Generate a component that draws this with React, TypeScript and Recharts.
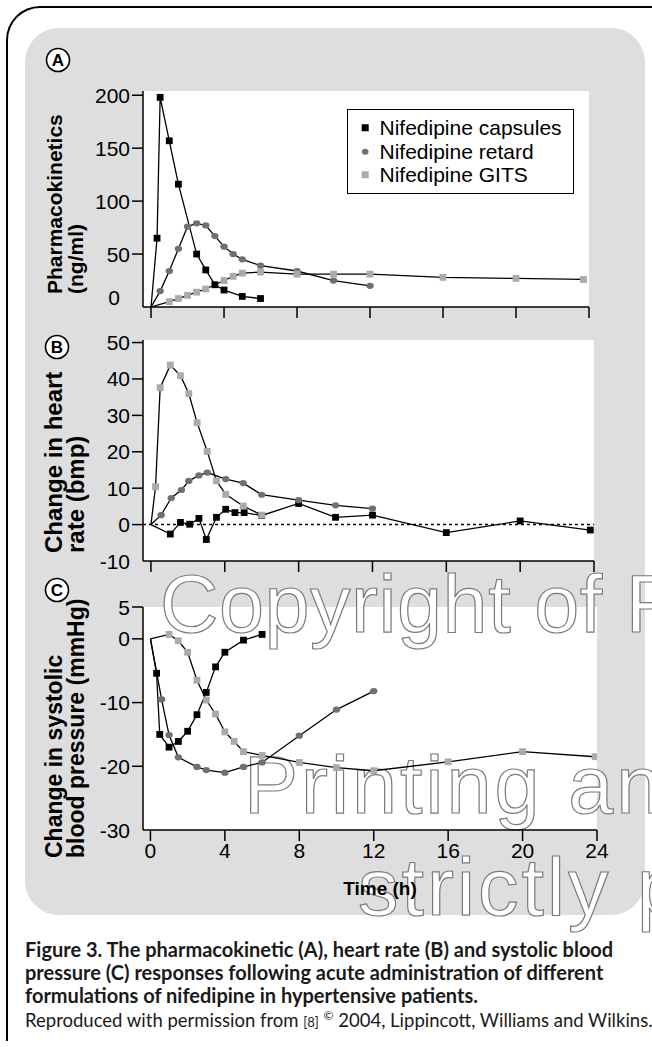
import React from 'react';
import { LineChart, Line, XAxis, YAxis, ReferenceLine, Legend } from 'recharts';

const FONT = "'Liberation Sans', Arial, Helvetica, sans-serif";
const CAPTION_FONT = "Lato, 'Open Sans', sans-serif";

const seriesNames = ['Nifedipine capsules', 'Nifedipine retard', 'Nifedipine GITS'];
const seriesColors = ['#000000', '#707070', '#aaaaaa'];
const seriesMarkers = ['square', 'circle', 'square'];

const timeTicks = [0, 4, 8, 12, 16, 20, 24];
const pkTicks = [0, 50, 100, 150, 200];
const hrTicks = [-10, 0, 10, 20, 30, 40, 50];
const sbpTicks = [-30, -20, -10, 0, 5];

// Panel A: pharmacokinetics (ng/ml)
const pkCapsulesTime = [0, 0.33, 0.5, 1, 1.5, 2.5, 3, 3.5, 4, 5, 6];
const pkCapsulesValue = [0, 65, 198, 157, 116, 50, 35, 21, 16, 10, 8];
const pkRetardTime = [0, 0.5, 1, 1.5, 2, 2.5, 3, 3.5, 4, 4.5, 5, 6, 8, 10, 12];
const pkRetardValue = [0, 15, 34, 55, 76, 79, 77, 67, 57, 50, 45, 39, 34, 25, 20];
const pkGitsTime = [0, 1, 1.5, 2, 2.5, 3, 4, 4.5, 5, 6, 8, 10, 12, 16, 20, 23.7];
const pkGitsValue = [0, 5, 8, 11, 14, 17, 25, 29, 32, 33, 31, 31, 31, 28, 27, 26];

// Panel B: change in heart rate (bpm)
const hrCapsulesTime = [0, 1.05, 1.6, 2.1, 2.6, 3, 3.55, 4.05, 4.55, 5.05, 6, 8, 10, 12, 16, 20, 23.8];
const hrCapsulesValue = [0, -2.6, 0.6, 0.1, 1.7, -4.1, 2.0, 4.2, 3.3, 3.3, 2.5, 5.8, 2.0, 2.6, -2.2, 1.0, -1.5];
const hrRetardTime = [0, 0.55, 1.1, 1.65, 2.05, 2.6, 3.05, 4.05, 5, 6, 8, 10, 12];
const hrRetardValue = [0, 2.6, 7.3, 9.5, 12.0, 13.5, 14.3, 12.5, 11.4, 8.2, 6.7, 5.3, 4.4];
const hrGitsTime = [0, 0.25, 0.5, 1.05, 1.6, 2.05, 2.5, 3.05, 3.55, 4.05, 5, 6];
const hrGitsValue = [0, 10.4, 37.6, 43.8, 40.9, 36.0, 28.0, 20.1, 12.0, 8.3, 5.1, 2.6];

// Panel C: change in systolic blood pressure (mmHg)
const sbpCapsulesTime = [0, 0.33, 0.5, 1, 1.5, 2, 2.5, 3, 3.5, 4, 5, 6];
const sbpCapsulesValue = [0, -5.4, -15.0, -17.0, -16.1, -14.5, -11.9, -8.4, -4.4, -2.1, -0.2, 0.7];
const sbpRetardTime = [0, 0.6, 1, 1.5, 2.5, 3, 4, 5, 6, 8, 10, 12];
const sbpRetardValue = [0, -9.5, -15.1, -18.6, -20.1, -20.6, -21.0, -20.1, -19.4, -15.2, -11.1, -8.2];
const sbpGitsTime = [0, 1, 1.5, 2, 2.5, 3, 3.5, 4, 4.5, 5, 6, 8, 10, 12, 16, 20, 23.9];
const sbpGitsValue = [0, 0.7, -0.3, -2.1, -6.5, -9.6, -11.8, -14.6, -16.1, -17.7, -18.3, -19.4, -20.2, -20.7, -19.3, -17.7, -18.5];

const captionLines = [
  'Figure 3. The pharmacokinetic (A), heart rate (B) and systolic blood',
  'pressure (C) responses following acute administration of different',
  'formulations of nifedipine in hypertensive patients.',
];

const toPoints = (t: number[], v: number[]) => t.map((x, i) => ({ t: x, v: v[i] }));

const pkData = [
  toPoints(pkCapsulesTime, pkCapsulesValue),
  toPoints(pkRetardTime, pkRetardValue),
  toPoints(pkGitsTime, pkGitsValue),
];
const hrData = [
  toPoints(hrCapsulesTime, hrCapsulesValue),
  toPoints(hrRetardTime, hrRetardValue),
  toPoints(hrGitsTime, hrGitsValue),
];
const sbpData = [
  toPoints(sbpCapsulesTime, sbpCapsulesValue),
  toPoints(sbpRetardTime, sbpRetardValue),
  toPoints(sbpGitsTime, sbpGitsValue),
];

function makeDot(seriesIndex: number) {
  const color = seriesColors[seriesIndex];
  const kind = seriesMarkers[seriesIndex];
  return (props: any) => {
    const { cx, cy, index } = props;
    const key = `dot-${seriesIndex}-${index}`;
    if (index === 0 || cx == null || cy == null) return <g key={key} />;
    if (kind === 'circle') {
      return <ellipse key={key} cx={cx} cy={cy} rx={3.7} ry={3.1} fill={color} />;
    }
    return <rect key={key} x={cx - 3.4} y={cy - 3.4} width={6.8} height={6.8} fill={color} />;
  };
}

function renderLines(datasets: { t: number; v: number }[][]) {
  return datasets.map((d, i) => (
    <Line
      key={seriesNames[i]}
      name={seriesNames[i]}
      data={d}
      dataKey="v"
      type="linear"
      stroke="#000"
      strokeWidth={1.3}
      dot={makeDot(i)}
      activeDot={false}
      isAnimationActive={false}
    />
  ));
}

function makeYTick(bottomValue: number, special?: { value: number; dx: number; dy: number }) {
  return (props: any) => {
    const { x, y, payload } = props;
    const v = payload.value;
    let tx = x;
    let ty = y;
    if (special && v === special.value) {
      tx += special.dx;
      ty += special.dy;
    }
    return (
      <g>
        {v !== bottomValue && !(special && v === special.value) && (
          <line x1={x + 2} x2={x + 13} y1={y} y2={y} stroke="#000" strokeWidth={1.5} />
        )}
        <text
          x={tx}
          y={ty}
          textAnchor="end"
          dominantBaseline="central"
          fontFamily={FONT}
          fontSize={21}
          fill="#000"
        >
          {v}
        </text>
      </g>
    );
  };
}

const emptyTick = () => <g />;

const xLabelTick = (props: any) => {
  const { x, y, payload } = props;
  return (
    <text x={x} y={y} dy="0.71em" textAnchor="middle" fontFamily={FONT} fontSize={21} fill="#000">
      {payload.value}
    </text>
  );
};

const LegendBox = (props: any) => {
  const payload: any[] = props.payload || [];
  const items = seriesNames.map((name, i) => ({
    name: (payload.find((p) => p.value === name) || { value: name }).value,
    i,
  }));
  return (
    <div
      style={{
        boxSizing: 'border-box',
        width: 227,
        height: 85,
        border: '1.5px solid #000',
        background: '#fff',
        paddingTop: 6,
      }}
    >
      {items.map(({ name, i }) => (
        <div
          key={name}
          style={{
            height: 23.5,
            display: 'flex',
            alignItems: 'center',
            fontFamily: FONT,
            fontSize: 21,
            lineHeight: '23.5px',
            color: '#000',
            whiteSpace: 'nowrap',
          }}
        >
          <svg width={31.5} height={23.5} style={{ flex: 'none' }}>
            {seriesMarkers[i] === 'circle' ? (
              <ellipse cx={17.2} cy={11.75} rx={3.3} ry={3} fill={seriesColors[i]} />
            ) : (
              <rect x={17.2 - 3.5} y={11.75 - 3.5} width={7} height={7} fill={seriesColors[i]} />
            )}
          </svg>
          <span>{name}</span>
        </div>
      ))}
    </div>
  );
};

const axisStyle = { stroke: '#000', strokeWidth: 1.5 };

export default function App() {
  return (
    <div
      style={{
        position: 'absolute',
        left: 0,
        top: 0,
        width: 652,
        height: 1047,
        overflow: 'hidden',
        background: '#fff',
      }}
    >
      {/* outer frame */}
      <div
        style={{
          position: 'absolute',
          left: 6,
          top: 6,
          width: 700,
          height: 1035,
          borderTop: '2.5px solid #000',
          borderLeft: '2.5px solid #000',
          borderTopLeftRadius: 34,
          boxSizing: 'border-box',
        }}
      />
      {/* grey panel */}
      <div
        style={{
          position: 'absolute',
          left: 25,
          top: 28,
          width: 620,
          height: 887,
          background: '#dedede',
          borderRadius: 34,
        }}
      />
      {/* plot backgrounds */}
      <div style={{ position: 'absolute', left: 143, top: 91, width: 446, height: 216, background: '#fff' }} />
      <div style={{ position: 'absolute', left: 143, top: 340, width: 451, height: 221, background: '#fff' }} />
      <div style={{ position: 'absolute', left: 143, top: 607, width: 454, height: 223, background: '#fff' }} />

      {/* watermark */}
      <svg width={652} height={1047} style={{ position: 'absolute', left: 0, top: 0 }}>
        <g fill="#fff" stroke="#7a7a7a" strokeWidth={1.2} fontFamily={FONT} fontSize={81}>
          <text x={160} y={632} letterSpacing={0.5}>Copyright of F</text>
          <text x={244} y={813} letterSpacing={3}>Printing an</text>
          <text x={358} y={915} letterSpacing={3}>strictly p</text>
        </g>
      </svg>

      {/* Panel A */}
      <div style={{ position: 'absolute', left: 0, top: 0 }}>
        <LineChart width={652} height={330} margin={{ top: 91, right: 63, bottom: 0, left: 0 }}>
          <XAxis
            dataKey="t"
            type="number"
            domain={[-0.44, 24]}
            ticks={timeTicks}
            allowDataOverflow
            interval={0}
            height={23}
            tickSize={11}
            tickMargin={2}
            axisLine={axisStyle}
            tickLine={axisStyle}
            tick={emptyTick}
          />
          <YAxis
            type="number"
            domain={[0, 204]}
            ticks={pkTicks}
            allowDataOverflow
            interval={0}
            width={143}
            tickSize={11}
            tickMargin={2}
            axisLine={axisStyle}
            tickLine={false}
            tick={makeYTick(0, { value: 0, dx: -10, dy: -10 })}
          />
          <Legend
            layout="vertical"
            align="center"
            verticalAlign="middle"
            wrapperStyle={{ position: 'absolute', left: 347, top: 109, width: 227, height: 85 }}
            content={(p: any) => <LegendBox payload={p.payload} />}
          />
          {renderLines(pkData)}
        </LineChart>
      </div>

      {/* Panel B */}
      <div style={{ position: 'absolute', left: 0, top: 330 }}>
        <LineChart width={652} height={250} margin={{ top: 10, right: 58, bottom: 0, left: 0 }}>
          <XAxis
            dataKey="t"
            type="number"
            domain={[-0.43, 24]}
            ticks={timeTicks}
            allowDataOverflow
            interval={0}
            height={19}
            tickSize={11}
            tickMargin={2}
            axisLine={axisStyle}
            tickLine={axisStyle}
            tick={emptyTick}
          />
          <YAxis
            type="number"
            domain={[-10, 50.7]}
            ticks={hrTicks}
            allowDataOverflow
            interval={0}
            width={143}
            tickSize={11}
            tickMargin={2}
            axisLine={axisStyle}
            tickLine={false}
            tick={makeYTick(-10)}
          />
          <ReferenceLine y={0} stroke="#000" strokeWidth={1.5} strokeDasharray="3 3" />
          {renderLines(hrData)}
        </LineChart>
      </div>

      {/* Panel C */}
      <div style={{ position: 'absolute', left: 0, top: 585 }}>
        <LineChart width={652} height={290} margin={{ top: 22, right: 55, bottom: 0, left: 0 }}>
          <XAxis
            dataKey="t"
            type="number"
            domain={[-0.4, 24]}
            ticks={timeTicks}
            allowDataOverflow
            interval={0}
            height={45}
            tickSize={11}
            tickMargin={2}
            axisLine={axisStyle}
            tickLine={axisStyle}
            tick={xLabelTick}
          />
          <YAxis
            type="number"
            domain={[-30, 5]}
            ticks={sbpTicks}
            allowDataOverflow
            interval={0}
            width={143}
            tickSize={11}
            tickMargin={2}
            axisLine={axisStyle}
            tickLine={false}
            tick={makeYTick(-30)}
          />
          {renderLines(sbpData)}
        </LineChart>
      </div>

      {/* labels */}
      <svg width={652} height={1047} style={{ position: 'absolute', left: 0, top: 0, pointerEvents: 'none' }}>
        {[
          { l: 'A', x: 58, y: 60 },
          { l: 'B', x: 57, y: 347 },
          { l: 'C', x: 57, y: 590 },
        ].map((c) => (
          <g key={c.l}>
            <circle cx={c.x} cy={c.y} r={11.5} fill="#fff" stroke="#000" strokeWidth={1.6} />
            <text
              x={c.x}
              y={c.y + 0.5}
              textAnchor="middle"
              dominantBaseline="central"
              fontFamily={FONT}
              fontWeight={700}
              fontSize={17}
            >
              {c.l}
            </text>
          </g>
        ))}
        <g fontFamily={FONT} fontWeight={700} fill="#000">
          <text transform="translate(62,294) rotate(-90)" fontSize={21}>Pharmacokinetics</text>
          <text transform="translate(83,294) rotate(-90)" fontSize={21}>(ng/ml)</text>
          <text transform="translate(62,553) rotate(-90)" fontSize={24}>Change in heart</text>
          <text transform="translate(84,553) rotate(-90)" fontSize={24}>rate (bmp)</text>
          <text transform="translate(62,858) rotate(-90)" fontSize={23}>Change in systolic</text>
          <text transform="translate(84,858) rotate(-90)" fontSize={23}>blood pressure (mmHg)</text>
          <text x={380} y={888} textAnchor="middle" dominantBaseline="central" fontSize={19}>
            Time (h)
          </text>
        </g>
      </svg>

      {/* caption */}
      <div
        style={{
          position: 'absolute',
          left: 25,
          top: 938,
          fontFamily: CAPTION_FONT,
          fontSize: 20,
          fontWeight: 700,
          lineHeight: '23px',
          color: '#1a1a1a',
          whiteSpace: 'nowrap',
        }}
      >
        {captionLines.map((l) => (
          <div key={l}>{l}</div>
        ))}
      </div>
      <div
        style={{
          position: 'absolute',
          left: 25,
          top: 1005,
          fontFamily: CAPTION_FONT,
          fontSize: 18.5,
          fontWeight: 400,
          lineHeight: '22px',
          color: '#1a1a1a',
          whiteSpace: 'nowrap',
        }}
      >
        Reproduced with permission from <span style={{ fontSize: 13 }}>[8]</span>{' '}
        <span style={{ fontSize: 12, verticalAlign: 'super' }}>©</span> 2004, Lippincott, Williams and Wilkins.
      </div>
    </div>
  );
}
